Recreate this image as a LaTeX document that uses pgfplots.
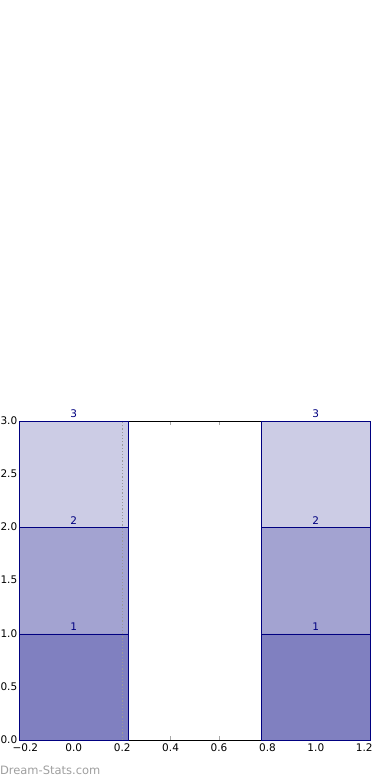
\documentclass[border=0pt]{standalone}
\usepackage{pgfplots}
\pgfplotsset{compat=1.18}
\usepackage{fontspec}
\setmainfont{DejaVu Sans}
\definecolor{cA}{RGB}{128,128,192}
\definecolor{cB}{RGB}{163,163,209}
\definecolor{cC}{RGB}{204,204,229}
\definecolor{navy}{RGB}{0,0,128}
\begin{document}
\begin{tikzpicture}[x=1pt,y=1pt]
\begin{axis}[
  at={(19.3pt,40pt)}, anchor=south west,
  scale only axis, width=351pt, height=318.7pt,
  xmin=-0.225, xmax=1.225, ymin=0, ymax=3,
  xtick={-0.2,0,0.2,0.4,0.6,0.8,1.0,1.2},
  xticklabels={−0.2,0.0,0.2,0.4,0.6,0.8,1.0,1.2},
  ytick={0,0.5,1,1.5,2,2.5,3},
  yticklabels={0.0,0.5,1.0,1.5,2.0,2.5,3.0},
  tick label style={font=\fontsize{10.5}{12}\selectfont, text=black},
  xticklabel style={yshift=-0.5pt},
  yticklabel style={xshift=1.5pt, yshift=0.5pt},
  tick align=inside, major tick length=4pt,
  major tick style={gray!70, line width=1pt},
  axis line style={black, line width=0.8pt},
  ybar stacked, bar width=0.45,
  clip=false,
]
\addplot[fill=cA, draw=navy, line width=0.5pt] coordinates {(0,1) (1,1)};
\addplot[fill=cB, draw=navy, line width=0.5pt] coordinates {(0,1) (1,1)};
\addplot[fill=cC, draw=navy, line width=0.5pt] coordinates {(0,1) (1,1)};
\end{axis}
\begin{axis}[
  at={(19.3pt,40pt)}, anchor=south west,
  scale only axis, width=351pt, height=318.7pt,
  xmin=-0.225, xmax=1.225, ymin=0, ymax=3,
  axis lines=none, ticks=none, clip=false,
]
\addplot[gray!80, line width=1pt, dash pattern=on 1.2pt off 2pt] coordinates {(0.2,0) (0.2,3)};
\addplot[only marks, mark=none, nodes near coords, point meta=explicit symbolic,
  every node near coord/.append style={font=\fontsize{10.5}{11}\selectfont, text=navy, anchor=south, inner sep=3pt}]
  coordinates {(0,1) [1] (0,2) [2] (0,3) [3] (1,1) [1] (1,2) [2] (1,3) [3]};
\end{axis}
\node[anchor=west, text=gray!75, font=\fontsize{11.5}{13}\selectfont] at (-3.5,9.5) {Dream-Stats.com};
\pgfresetboundingbox
\useasboundingbox (0,0) rectangle (390,780);
\end{tikzpicture}
\end{document}
